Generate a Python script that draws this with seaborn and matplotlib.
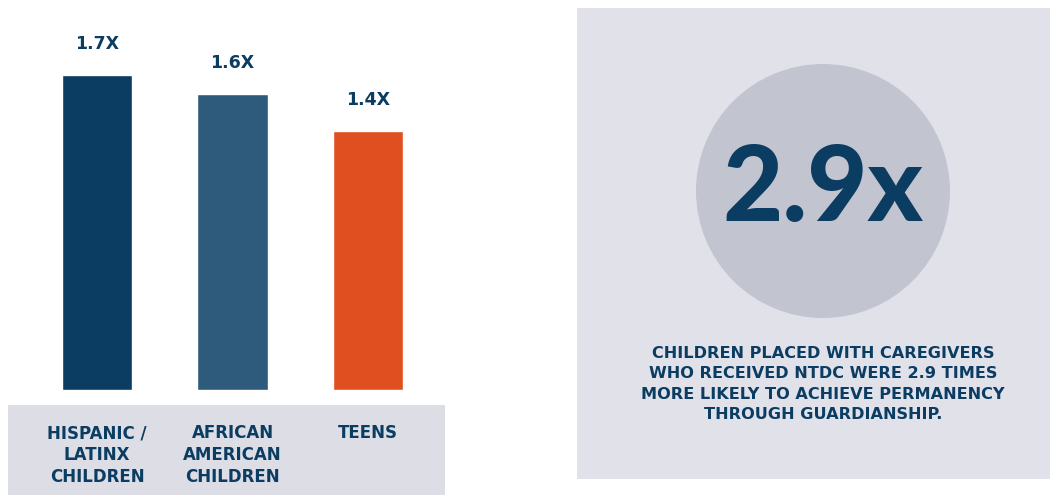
import matplotlib
matplotlib.use("Agg")
import matplotlib.pyplot as plt
import seaborn as sns
import pandas as pd
from matplotlib.patches import Rectangle, Circle
from matplotlib.transforms import blended_transform_factory

sns.set_theme(style="white")
plt.rcParams['font.family'] = ['DejaVu Sans']

# ---- data ----
categories = ["HISPANIC /\nLATINX\nCHILDREN", "AFRICAN\nAMERICAN\nCHILDREN", "TEENS"]
values = [1.7, 1.6, 1.4]
value_labels = ["1.7X", "1.6X", "1.4X"]
bar_colors = ["#0B3C61", "#2E5B7C", "#E04F1F"]
highlight_stat = "2.9x"
highlight_caption = ("CHILDREN PLACED WITH CAREGIVERS\n"
                     "WHO RECEIVED NTDC WERE 2.9 TIMES\n"
                     "MORE LIKELY TO ACHIEVE PERMANENCY\n"
                     "THROUGH GUARDIANSHIP.")

NAVY = "#0B3C61"
W, H = 1050, 495
fig = plt.figure(figsize=(W / 100, H / 100), dpi=100)

# background layer in pixel coordinates
bg = fig.add_axes([0, 0, 1, 1], zorder=0)
bg.set_xlim(0, W)
bg.set_ylim(H, 0)
bg.axis("off")
bg.add_patch(Rectangle((8, 405), 437, 90, facecolor="#DDDDE5", edgecolor="none"))
bg.add_patch(Rectangle((577, 8), W - 577, 471, facecolor="#E1E1EA", edgecolor="none"))
bg.add_patch(Circle((823, 191), 127, facecolor="#C2C4D0", edgecolor="none"))
bg.text(823, 190, highlight_stat, ha="center", va="center", fontsize=75,
        fontweight="black", color=NAVY, family=["Lato", "DejaVu Sans"])
bg.text(823, 384, highlight_caption, ha="center", va="center", fontsize=11.6,
        fontweight="bold", color=NAVY, linespacing=1.46)

# bar chart
ax = fig.add_axes([8 / W, 105 / H, 437 / W, 390 / H], zorder=1)
ax.patch.set_alpha(0)
df = pd.DataFrame({"category": categories, "value": values})
sns.barplot(data=df, x="category", y="value", hue="category",
            palette=bar_colors, width=0.52, legend=False, ax=ax, saturation=1)
ax.set_xlim(-0.657, 2.568)
ax.set_ylim(0, 2.105)
ax.axis("off")

for i, (v, lab) in enumerate(zip(values, value_labels)):
    ax.annotate(lab, (i, v), xytext=(0, 22), textcoords="offset points",
                ha="center", va="center", fontsize=12.5, fontweight="bold", color=NAVY)

tr = blended_transform_factory(ax.transData, fig.transFigure)
for i, c in enumerate(categories):
    ax.text(i, 1 - 424 / H, c, transform=tr, ha="center", va="top",
            fontsize=12, fontweight="bold", color=NAVY, linespacing=1.27)

fig.savefig("out.png", dpi=100)
